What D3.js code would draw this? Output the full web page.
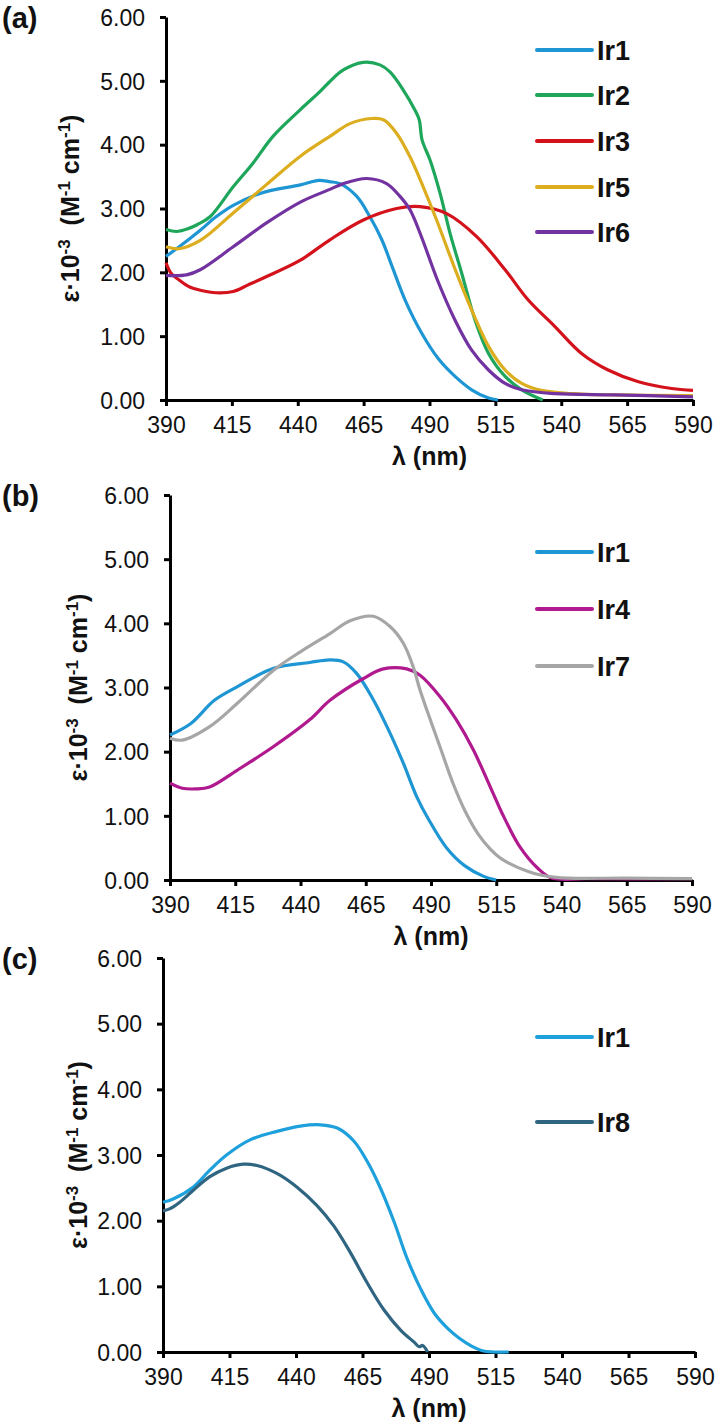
<!DOCTYPE html>
<html>
<head>
<meta charset="utf-8">
<script src="https://cdn.jsdelivr.net/npm/d3@7"></script>
<style>
  body { margin: 0; background: #fff; }
  svg text { font-family: "Liberation Sans", Arial, sans-serif; fill: #111; }
  .tick text { font-size: 23px; }
  .domain, .tick line { stroke: #000; stroke-width: 3px; }
  .axtitle { font-weight: bold; font-size: 25px; }
  .plabel { font-weight: bold; font-size: 29px; }
  .legend text { font-weight: bold; font-size: 27px; }
</style>
</head>
<body>
<svg id="chart" width="715" height="1425"></svg>
<script>
// tick values shared by the three panels
const wavelengthTicks = [390, 415, 440, 465, 490, 515, 540, 565, 590];
const epsTicks = [0, 1, 2, 3, 4, 5, 6];

// panel (a) : [lambda nm, eps*10^-3]
const ir1A = [[390,2.25],[395,2.4],[403,2.66],[409,2.87],[415.5,3.05],[426,3.24],[441,3.37],[448,3.44],[452,3.42],[456,3.39],[462.4,3.19],[467.4,2.87],[471.9,2.51],[476,2.07],[480.7,1.57],[487,1.05],[493.3,0.65],[499.7,0.37],[506,0.16],[512.4,0.03],[516,0]];
const ir2A = [[390,2.67],[394,2.64],[398,2.68],[402,2.75],[406.7,2.87],[415.5,3.34],[423,3.71],[430.6,4.13],[441,4.55],[448.4,4.83],[452.2,4.99],[457.3,5.17],[464.9,5.29],[471.2,5.25],[475,5.14],[480,4.86],[484.5,4.54],[486.1,4.39],[487.2,4.07],[490.2,3.76],[494,3.24],[497.8,2.61],[502.2,1.99],[507.3,1.25],[512.4,0.73],[518.7,0.37],[525,0.16],[533,0]];
const ir3A = [[390,2.15],[392,1.98],[395,1.88],[399,1.77],[403,1.72],[409,1.68],[415.5,1.7],[421,1.8],[428,1.93],[441,2.19],[452.2,2.51],[464.9,2.82],[477.5,3.0],[486.4,3.03],[496.5,2.92],[507.9,2.56],[518.7,2.04],[527.4,1.57],[537.6,1.15],[547.7,0.73],[557.8,0.47],[569,0.29],[581.9,0.18],[590,0.15]];
const ir5A = [[390,2.4],[395,2.37],[403,2.5],[415.5,2.93],[428,3.37],[441,3.82],[452.2,4.13],[459.8,4.33],[468.1,4.41],[472.5,4.39],[477.5,4.18],[482.6,3.81],[487.6,3.34],[492.7,2.82],[499.7,2.05],[506,1.41],[512.4,0.84],[518.7,0.47],[525,0.26],[532.5,0.15],[544,0.1],[560,0.08],[590,0.07]];
const ir6A = [[390,1.95],[397.8,1.96],[403,2.04],[415.5,2.4],[428,2.77],[441,3.1],[452.2,3.3],[457.3,3.39],[466.2,3.47],[473.7,3.39],[478.8,3.19],[482.6,2.98],[487,2.55],[493,1.88],[499.7,1.25],[506,0.78],[512.4,0.47],[518.7,0.26],[525,0.16],[537.6,0.1],[560,0.08],[590,0.05]];

// panel (b)
const ir1B = [[390,2.26],[398,2.44],[407,2.8],[415.7,3.01],[429.7,3.3],[443.6,3.39],[451.3,3.43],[456.4,3.4],[461.5,3.22],[467.9,2.81],[474.3,2.29],[479.4,1.82],[484.5,1.3],[489,0.95],[496,0.5],[503,0.22],[510,0.06],[515,0]];
const ir4B = [[390,1.51],[394.7,1.43],[400,1.42],[405.2,1.45],[415.7,1.71],[429.7,2.08],[443.6,2.5],[451.3,2.8],[464.1,3.14],[471.7,3.29],[480.7,3.29],[485.8,3.19],[493.4,2.86],[499.8,2.49],[506.2,2.03],[513.8,1.35],[517,1.06],[524,0.52],[531,0.18],[536.2,0.03],[550,0.02],[590,0.02]];
const ir7B = [[390,2.21],[394.7,2.18],[405.2,2.39],[415.7,2.75],[429.7,3.27],[440.1,3.56],[451.3,3.84],[459,4.04],[467.9,4.11],[474.3,3.95],[479.4,3.69],[483.2,3.32],[485.8,2.96],[488.4,2.65],[493.4,2.08],[498.5,1.5],[503,1.08],[508,0.72],[513,0.47],[517,0.33],[527.5,0.13],[538,0.04],[565,0.03],[590,0.02]];

// panel (c)
const ir1C = [[390,2.28],[393.8,2.33],[401.3,2.51],[407.6,2.77],[413.9,3.0],[422.7,3.23],[432.8,3.36],[441.6,3.44],[449.2,3.46],[455.5,3.41],[461.8,3.21],[466.8,2.9],[471.8,2.49],[476.9,1.98],[481.9,1.41],[487,0.95],[492,0.59],[497,0.36],[501.4,0.21],[506,0.09],[510,0.02],[514,0],[520,0]];
const ir8C = [[390,2.15],[392.5,2.18],[396.3,2.28],[401.3,2.46],[407.6,2.67],[413.9,2.8],[420.2,2.86],[425.3,2.84],[432.8,2.72],[440.4,2.51],[447.9,2.23],[454.2,1.92],[460.5,1.51],[466.8,1.05],[473.1,0.64],[479.4,0.33],[484.4,0.15],[486.3,0.08],[487.6,0.1],[489.5,0]];

const svg = d3.select("#chart");

/**
 * Draws one absorption panel: axes, titles, curves and legend.
 */
function drawPanel(p) {
  let g = svg.append("g");

  let x = d3.scaleLinear().domain([390, 590]).range([p.left, p.right]);
  let y = d3.scaleLinear().domain([0, 6]).range([p.bottom, p.top]);

  //x axis
  g.append("g")
    .attr("transform", "translate(0," + p.bottom + ")")
    .call(d3.axisBottom(x).tickValues(wavelengthTicks).tickSize(6).tickSizeOuter(0).tickPadding(11).tickFormat(d3.format("d")));

  //y axis
  g.append("g")
    .attr("transform", "translate(" + p.left + ",0)")
    .call(d3.axisLeft(y).tickValues(epsTicks).tickSize(6).tickSizeOuter(0).tickPadding(15).tickFormat(d3.format(".2f")))
    .selectAll(".tick text").attr("dy", "0.36em");

  let line = d3.line()
    .x(d => x(d[0]))
    .y(d => y(d[1]))
    .curve(d3.curveCatmullRom.alpha(0.5));

  g.selectAll("path.curve")
    .data(p.series)
    .enter()
    .append("path")
    .attr("class", "curve")
    .attr("d", d => line(d.values))
    .attr("fill", "none")
    .attr("stroke", d => d.color)
    .attr("stroke-width", 3.2)
    .attr("stroke-linejoin", "round");

  // axis titles
  g.append("text")
    .attr("class", "axtitle")
    .attr("x", (p.left + p.right) / 2)
    .attr("y", p.bottom + 65)
    .attr("text-anchor", "middle")
    .text("λ (nm)");

  let yt = g.append("text")
    .attr("class", "axtitle")
    .attr("text-anchor", "middle")
    .attr("transform", "translate(" + p.ytitleX + "," + (p.top + p.bottom) / 2 + ") rotate(-90)");
  yt.append("tspan").text("ε·10");
  yt.append("tspan").attr("baseline-shift", "super").attr("font-size", "17px").text("-3");
  yt.append("tspan").text("\u00a0\u00a0(M");
  yt.append("tspan").attr("baseline-shift", "super").attr("font-size", "17px").text("-1");
  yt.append("tspan").text("\u00a0cm");
  yt.append("tspan").attr("baseline-shift", "super").attr("font-size", "17px").text("-1");
  yt.append("tspan").text(")");

  g.append("text")
    .attr("class", "plabel")
    .attr("x", 2)
    .attr("y", p.top + 11)
    .text(p.label);

  // legend
  let leg = g.append("g").attr("class", "legend");
  let items = leg.selectAll("g")
    .data(p.series)
    .enter()
    .append("g")
    .attr("transform", (d, i) => "translate(537," + p.legendY[i] + ")");
  items.append("line")
    .attr("x1", 0).attr("x2", 55)
    .attr("stroke", d => d.color)
    .attr("stroke-width", 4)
    .attr("stroke-linecap", "round");
  items.append("text")
    .attr("x", 60)
    .attr("dy", "0.36em")
    .text(d => d.name);
}

drawPanel({
  label: "(a)", left: 166, right: 693, top: 17, bottom: 400, ytitleX: 79,
  legendY: [50, 95, 141, 187, 232],
  series: [
    {name: "Ir1", color: "#1f96d4", values: ir1A},
    {name: "Ir2", color: "#1ea65a", values: ir2A},
    {name: "Ir3", color: "#d3121b", values: ir3A},
    {name: "Ir5", color: "#dcae1f", values: ir5A},
    {name: "Ir6", color: "#7232a0", values: ir6A}
  ]
});

drawPanel({
  label: "(b)", left: 170, right: 692, top: 495, bottom: 880, ytitleX: 87,
  legendY: [552, 609, 666],
  series: [
    {name: "Ir1", color: "#1f96d4", values: ir1B},
    {name: "Ir4", color: "#b01a8e", values: ir4B},
    {name: "Ir7", color: "#a6a6a6", values: ir7B}
  ]
});

drawPanel({
  label: "(c)", left: 163, right: 695, top: 958, bottom: 1352, ytitleX: 87,
  legendY: [1037, 1122],
  series: [
    {name: "Ir1", color: "#1ea0dc", values: ir1C},
    {name: "Ir8", color: "#2f6580", values: ir8C}
  ]
});
</script>
</body>
</html>
